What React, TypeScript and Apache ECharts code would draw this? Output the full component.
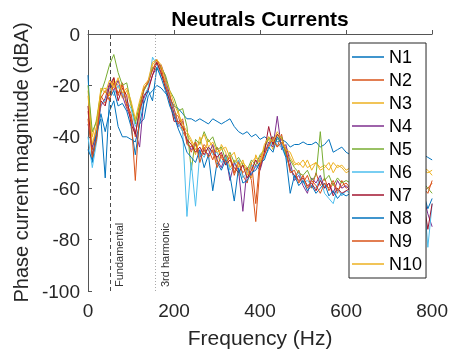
import { useEffect, useRef } from "react";
import * as echarts from "echarts";

const freqs = [
  0, 10, 20, 30, 40, 50, 60, 70, 80, 90, 100, 110, 120, 130, 140, 150, 160, 170, 180, 190, 200,
  210, 220, 230, 240, 250, 260, 270, 280, 290, 300, 310, 320, 330, 340, 350, 360, 370, 380, 390, 400,
  410, 420, 430, 440, 450, 460, 470, 480, 490, 500, 510, 520, 530, 540, 550, 560, 570, 580, 590, 600,
  610, 620, 630, 640, 650, 660, 670, 680, 690, 700, 710, 720, 730, 740, 750, 760, 770, 780, 790, 800,
];

const N1 = [
  -16, -50, -40, -31, -38, -30, -26, -36, -40, -40, -41, -42, -35, -33, -24, -22, -20, -21, -23, -25, -28,
  -29, -31, -33, -33, -34, -33, -34, -35, -33, -34, -35, -34, -33, -36, -38, -39, -38, -40, -39, -41,
  -40, -41, -40, -42, -41, -42, -44, -43, -43, -42, -43, -43, -42, -44, -43, -41, -46, -45, -44, -46,
  -47, -46, -46, -47, -46, -47, -46, -47, -46, -47, -46, -47, -47, -46, -47, -46, -46, -47, -48, -49,
];
const N2 = [
  -30, -45, -36, -24, -27, -23, -17, -24, -19, -27, -31, -40, -28, -22, -18, -14, -11, -16, -18, -27, -31,
  -32, -38, -41, -46, -42, -47, -43, -45, -49, -44, -48, -51, -47, -54, -49, -55, -58, -50, -66, -48,
  -45, -44, -40, -44, -39, -47, -52, -56, -53, -58, -55, -60, -54, -59, -56, -61, -58, -62, -57, -60,
  -59, -61, -58, -62, -60, -57, -61, -63, -59, -60, -62, -58, -61, -59, -63, -60, -58, -61, -60, -58,
];
const N3 = [
  -22, -40, -33, -22, -21, -24, -18, -20, -25, -22, -28, -34, -29, -21, -19, -12, -10, -14, -21, -23, -33,
  -30, -37, -39, -42, -47, -40, -46, -41, -44, -50, -43, -46, -52, -49, -55, -50, -52, -56, -47, -51,
  -44, -41, -45, -39, -43, -44, -48, -51, -50, -52, -49, -53, -50, -52, -51, -53, -50, -52, -51, -53,
  -52, -54, -51, -53, -52, -50, -53, -52, -54, -51, -53, -52, -50, -53, -51, -52, -53, -52, -53, -55,
];
const N4 = [
  -35, -44, -39, -28, -25, -19, -22, -18, -24, -29, -33, -38, -44, -25, -21, -16, -13, -12, -17, -24, -31,
  -36, -34, -42, -45, -43, -48, -45, -47, -43, -49, -52, -47, -57, -50, -53, -69, -52, -55, -51, -53,
  -47, -42, -44, -32, -45, -43, -50, -57, -55, -59, -62, -56, -58, -55, -60, -58, -62, -57, -60, -59,
  -61, -58, -63, -60, -57, -62, -59, -64, -60, -58, -63, -61, -59, -62, -60, -64, -61, -63, -70, -75,
];
const N5 = [
  -20, -38, -34, -23, -18, -12, -8, -15, -20, -19, -27, -35, -27, -22, -19, -13, -14, -13, -16, -22, -25,
  -30, -29, -36, -53, -41, -43, -38, -42, -40, -45, -44, -49, -46, -50, -48, -51, -53, -49, -51, -47,
  -45, -40, -43, -41, -40, -47, -49, -52, -54, -55, -53, -57, -55, -38, -57, -55, -59, -56, -58, -57,
  -58, -56, -59, -57, -55, -58, -60, -57, -59, -56, -58, -60, -57, -59, -58, -56, -59, -58, -60, -62,
];
const N6 = [
  -40, -52, -42, -27, -26, -21, -24, -20, -23, -26, -29, -36, -32, -24, -21, -9, -12, -17, -19, -26, -29,
  -35, -38, -71, -50, -67, -46, -48, -44, -47, -46, -50, -48, -53, -51, -49, -56, -54, -51, -52, -50,
  -48, -45, -41, -43, -44, -48, -52, -56, -54, -58, -57, -59, -60, -56, -62, -64, -66, -60, -63, -61,
  -62, -64, -60, -63, -65, -61, -62, -64, -60, -63, -61, -65, -62, -60, -64, -62, -63, -61, -83, -66,
];
const N7 = [
  -28, -47, -40, -26, -28, -20, -17, -26, -21, -24, -35, -39, -30, -24, -22, -16, -11, -15, -21, -26, -34,
  -34, -36, -41, -43, -46, -44, -47, -44, -46, -48, -46, -51, -49, -52, -54, -51, -56, -53, -49, -52,
  -46, -36, -43, -39, -41, -45, -53, -55, -57, -56, -59, -58, -61, -57, -60, -58, -63, -60, -62, -61,
  -60, -63, -61, -59, -62, -64, -60, -62, -61, -63, -59, -62, -64, -60, -62, -61, -63, -65, -76, -66,
];
const N8 = [
  -45, -49, -38, -33, -56, -25, -22, -28, -27, -30, -36, -47, -35, -27, -22, -26, -13, -17, -22, -28, -32,
  -37, -41, -46, -48, -50, -45, -52, -47, -61, -50, -53, -49, -55, -65, -52, -58, -57, -54, -53, -50,
  -49, -44, -46, -40, -43, -48, -62, -55, -59, -57, -61, -59, -62, -60, -58, -63, -61, -64, -62, -63,
  -62, -64, -61, -65, -63, -60, -64, -62, -66, -61, -63, -65, -62, -64, -61, -63, -65, -62, -68, -64,
];
const N9 = [
  -33, -48, -41, -25, -22, -26, -19, -23, -20, -28, -32, -57, -30, -21, -19, -14, -10, -13, -20, -24, -29,
  -35, -33, -43, -44, -42, -50, -44, -48, -45, -52, -47, -50, -48, -55, -50, -54, -52, -57, -73, -51,
  -47, -43, -41, -44, -42, -45, -54, -53, -58, -55, -60, -57, -59, -62, -58, -60, -57, -61, -59, -58,
  -60, -58, -62, -59, -61, -57, -60, -63, -58, -61, -59, -62, -60, -58, -61, -59, -62, -60, -62, -57,
];
const N10 = [
  -24, -43, -36, -21, -23, -18, -21, -17, -23, -21, -26, -33, -26, -20, -18, -11, -10, -12, -18, -22, -27,
  -31, -35, -38, -41, -45, -42, -39, -44, -42, -46, -45, -44, -48, -46, -52, -49, -55, -50, -48, -50,
  -43, -40, -42, -38, -41, -45, -46, -50, -51, -49, -52, -51, -50, -53, -52, -50, -54, -51, -52, -54,
  -53, -51, -54, -52, -50, -53, -52, -54, -51, -53, -52, -50, -54, -52, -53, -51, -52, -53, -54, -53,
];

const seriesNames = ["N1", "N2", "N3", "N4", "N5", "N6", "N7", "N8", "N9", "N10"];
const seriesValues = [N1, N2, N3, N4, N5, N6, N7, N8, N9, N10];
const colors = [
  "#0072BD", "#D95319", "#EDB120", "#7E2F8E", "#77AC30",
  "#4DBEEE", "#A2142F", "#0072BD", "#D95319", "#EDB120",
];
const markerNames = ["Fundamental", "3rd harmonic"];
const markerFreqs = [51, 156];

const FONT = "'Liberation Sans', Arial, Helvetica, sans-serif";
const INK = "#262626";

export default function App() {
  const ref = useRef<HTMLDivElement>(null);
  useEffect(() => {
    const chart = echarts.init(ref.current!, null, { renderer: "svg" });
    const series: any[] = seriesNames.map((name, k) => ({
      name,
      type: "line",
      symbol: "none",
      showSymbol: false,
      color: colors[k],
      itemStyle: { color: colors[k] },
      lineStyle: { width: 1, color: colors[k] },
      data: freqs.map((f, i) => [f, seriesValues[k][i]]),
      z: 2,
    }));
    series[0].markLine = {
      silent: true,
      symbol: ["none", "none"],
      animation: false,
      data: markerNames.map((m, i) => ({
        xAxis: markerFreqs[i],
        lineStyle: i === 0
          ? { type: [4, 3], color: "#4a4a4a", width: 1 }
          : { type: [1, 2], color: "#a8a8a8", width: 1 },
        label: {
          show: true,
          formatter: m,
          position: "insideStartBottom",
          fontSize: 11,
          fontFamily: FONT,
          color: "#333",
          distance: 4,
        },
      })),
    };
    chart.setOption({
      animation: false,
      textStyle: { fontFamily: FONT },
      graphic: [
        {
          type: "text",
          x: 260,
          y: 18,
          style: {
            text: "Neutrals Currents",
            align: "center",
            verticalAlign: "middle",
            font: `bold 21px ${FONT}`,
            fill: "#000",
          },
        },
      ],
      grid: { left: 88, top: 34, right: 18, bottom: 63, containLabel: false },
      legend: {
        orient: "vertical",
        left: 349,
        top: 43,
        icon: "rect",
        itemWidth: 32,
        itemHeight: 1.5,
        itemGap: 5,
        padding: [5, 4, 5, 3],
        backgroundColor: "#fff",
        borderColor: INK,
        borderWidth: 1,
        borderRadius: 0,
        textStyle: { fontSize: 18, color: "#000", fontFamily: FONT },
        data: seriesNames,
      },
      xAxis: {
        type: "value",
        min: 0,
        max: 800,
        interval: 200,
        name: "Frequency (Hz)",
        nameLocation: "middle",
        nameGap: 36,
        nameTextStyle: { fontSize: 21, color: INK, fontFamily: FONT },
        axisLine: { show: true, lineStyle: { color: "#555", width: 1 } },
        axisTick: { show: true, inside: true, length: 4, lineStyle: { color: "#555" } },
        axisLabel: { fontSize: 19, color: INK, margin: 10, fontFamily: FONT },
        splitLine: { show: false },
      },
      yAxis: {
        type: "value",
        min: -100,
        max: 0,
        interval: 20,
        name: "Phase current magnitude (dBA)",
        nameLocation: "middle",
        nameGap: 50,
        nameTextStyle: { fontSize: 20, color: INK, fontFamily: FONT },
        axisLine: { show: true, lineStyle: { color: "#555", width: 1 } },
        axisTick: { show: true, inside: true, length: 4, lineStyle: { color: "#555" } },
        axisLabel: { fontSize: 19, color: INK, margin: 8, fontFamily: FONT },
        splitLine: { show: false },
      },
      series,
    });
    return () => chart.dispose();
  }, []);
  return (
    <div
      ref={ref}
      style={{ position: "fixed", left: 0, top: 0, width: 451, height: 354 }}
    />
  );
}
